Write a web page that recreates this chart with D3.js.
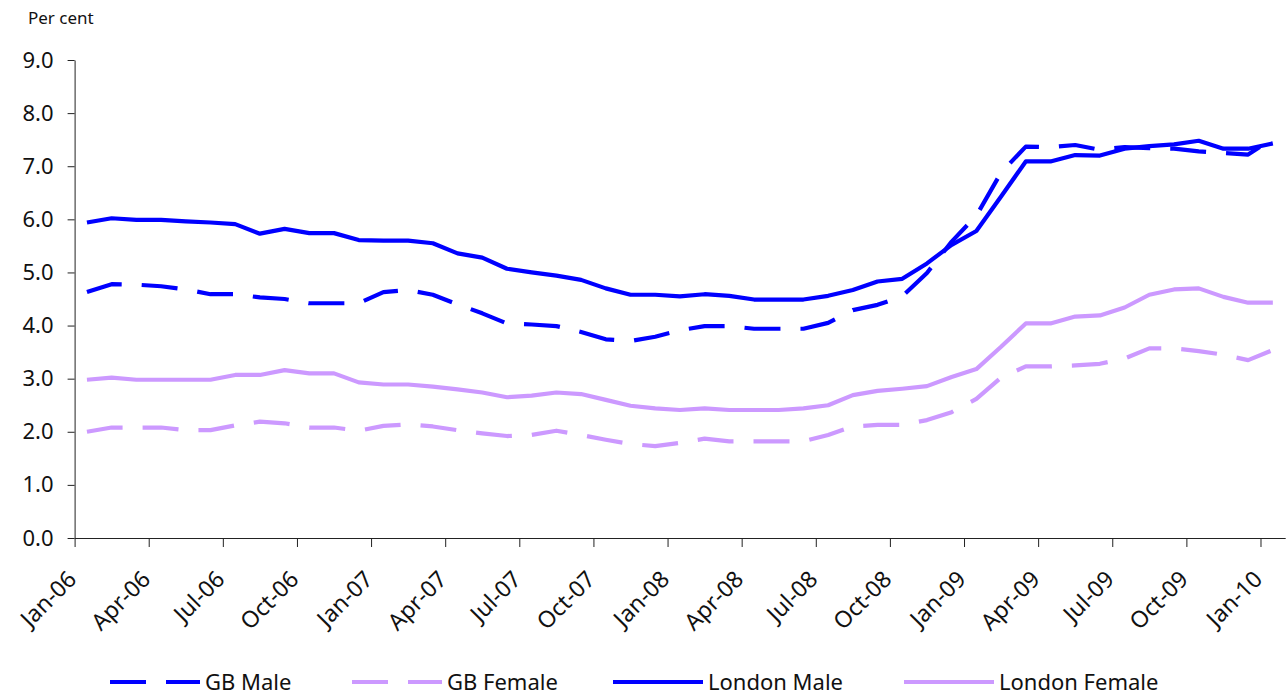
<!DOCTYPE html>
<html>
<head>
<meta charset="utf-8">
<script src="https://cdn.jsdelivr.net/npm/d3@7"></script>
<style>
  body { margin: 0; background: #fff; }
  svg { display: block; }
  text { font-family: "Noto Sans", sans-serif; fill: #111; }
</style>
</head>
<body>
<svg id="chart" width="1286" height="697"></svg>
<script>
// maanden (categorieen), Jan-06 t/m Jan-10
const months = [
  "Jan-06","Feb-06","Mar-06","Apr-06","May-06","Jun-06","Jul-06","Aug-06","Sep-06","Oct-06","Nov-06","Dec-06",
  "Jan-07","Feb-07","Mar-07","Apr-07","May-07","Jun-07","Jul-07","Aug-07","Sep-07","Oct-07","Nov-07","Dec-07",
  "Jan-08","Feb-08","Mar-08","Apr-08","May-08","Jun-08","Jul-08","Aug-08","Sep-08","Oct-08","Nov-08","Dec-08",
  "Jan-09","Feb-09","Mar-09","Apr-09","May-09","Jun-09","Jul-09","Aug-09","Sep-09","Oct-09","Nov-09","Dec-09",
  "Jan-10"
];

const tickLabels = ["Jan-06","Apr-06","Jul-06","Oct-06","Jan-07","Apr-07","Jul-07","Oct-07",
  "Jan-08","Apr-08","Jul-08","Oct-08","Jan-09","Apr-09","Jul-09","Oct-09","Jan-10"];

const yTicks = [0, 1, 2, 3, 4, 5, 6, 7, 8, 9];

const gbMale = [4.63,4.78,4.77,4.74,4.68,4.59,4.59,4.53,4.50,4.42,4.42,4.42,
  4.63,4.67,4.58,4.40,4.23,4.04,4.02,3.99,3.88,3.74,3.71,3.79,
  3.91,3.99,3.99,3.94,3.94,3.94,4.05,4.29,4.39,4.55,4.99,5.58,
  6.07,6.88,7.37,7.36,7.40,7.31,7.36,7.34,7.33,7.28,7.25,7.22,
  7.52];

const gbFemale = [2.00,2.08,2.08,2.08,2.03,2.03,2.12,2.19,2.16,2.08,2.08,2.02,
  2.11,2.14,2.10,2.03,1.97,1.92,1.94,2.02,1.94,1.85,1.77,1.73,
  1.79,1.87,1.82,1.82,1.82,1.82,1.94,2.10,2.13,2.13,2.22,2.37,
  2.62,3.02,3.23,3.23,3.25,3.28,3.38,3.57,3.57,3.52,3.45,3.35,
  3.54];

const londonMale = [5.94,6.02,5.99,5.99,5.96,5.94,5.91,5.73,5.82,5.74,5.74,5.61,
  5.60,5.60,5.55,5.36,5.28,5.07,5.00,4.94,4.86,4.70,4.58,4.58,
  4.55,4.59,4.56,4.49,4.49,4.49,4.56,4.67,4.83,4.88,5.17,5.52,
  5.78,6.43,7.09,7.09,7.21,7.20,7.33,7.38,7.41,7.48,7.33,7.33,
  7.43];

const londonFemale = [2.98,3.02,2.98,2.98,2.98,2.98,3.07,3.07,3.16,3.10,3.10,2.93,
  2.89,2.89,2.85,2.80,2.74,2.65,2.68,2.74,2.71,2.60,2.49,2.44,
  2.41,2.44,2.41,2.41,2.41,2.44,2.50,2.69,2.77,2.81,2.86,3.03,
  3.18,3.60,4.04,4.04,4.17,4.19,4.34,4.58,4.68,4.70,4.54,4.43,
  4.43];

const seriesNames = ["GB Male", "GB Female", "London Male", "London Female"];

// stijl per reeks
const series = [
  { name: seriesNames[0], values: gbMale,       color: "#0000ff", dash: "36,20" },
  { name: seriesNames[1], values: gbFemale,     color: "#cc99ff", dash: "36,20" },
  { name: seriesNames[2], values: londonMale,   color: "#0000ff", dash: null },
  { name: seriesNames[3], values: londonFemale, color: "#cc99ff", dash: null }
];

const svg = d3.select("#chart");
const plotLeft = 74.6, plotRight = 1285.2, plotTop = 60, plotBottom = 538;

// categorie-as: elke maand is een vak, punt in het midden
const x = d3.scaleLinear().domain([0, months.length]).range([plotLeft, plotRight]);
const y = d3.scaleLinear().domain([0, 9]).range([plotBottom, plotTop]);

// y-as
const yAxis = svg.append("g")
  .attr("transform", `translate(${plotLeft},0)`)
  .call(d3.axisLeft(y).tickValues(yTicks).tickFormat(d3.format(".1f"))
    .tickSize(7).tickSizeOuter(0).tickPadding(14));
yAxis.selectAll("text").style("font-size", "22px");
yAxis.selectAll("line, path").attr("stroke", "#222");

// x-as
const xAxis = svg.append("g")
  .attr("transform", `translate(0,${plotBottom})`)
  .call(d3.axisBottom(x).tickValues(d3.range(0, months.length, 3))
    .tickFormat((d, i) => tickLabels[i]).tickSize(9).tickSizeOuter(0));
xAxis.selectAll("line, path").attr("stroke", "#222");
xAxis.selectAll("text")
  .style("font-size", "23px")
  .attr("text-anchor", "end")
  .attr("x", 0).attr("y", 0).attr("dy", "0.35em")
  .attr("transform", "translate(-3,37) rotate(-45)");

// lijnen
const line = d3.line()
  .x((d, i) => x(i + 0.5))
  .y(d => y(d));

svg.append("g").selectAll("path")
  .data([series[1], series[3], series[0], series[2]])
  .enter()
  .append("path")
  .attr("d", d => line(d.values))
  .attr("fill", "none")
  .attr("stroke", d => d.color)
  .attr("stroke-width", 4.2)
  .attr("stroke-linejoin", "round")
  .attr("stroke-dasharray", d => d.dash);

// legenda
const legendX = [110, 352, 613, 904];
const legend = svg.append("g").selectAll("g")
  .data(series)
  .enter()
  .append("g")
  .attr("transform", (d, i) => `translate(${legendX[i]},682)`);

legend.append("line")
  .attr("x1", 0).attr("x2", 90)
  .attr("stroke", d => d.color)
  .attr("stroke-width", 4.2)
  .attr("stroke-dasharray", d => d.dash);

legend.append("text")
  .attr("x", 95).attr("dy", "0.35em")
  .style("font-size", "22px")
  .text(d => d.name);

// eenheid
svg.append("text")
  .attr("x", 28).attr("y", 24)
  .style("font-size", "17px")
  .text("Per cent");
</script>
</body>
</html>
